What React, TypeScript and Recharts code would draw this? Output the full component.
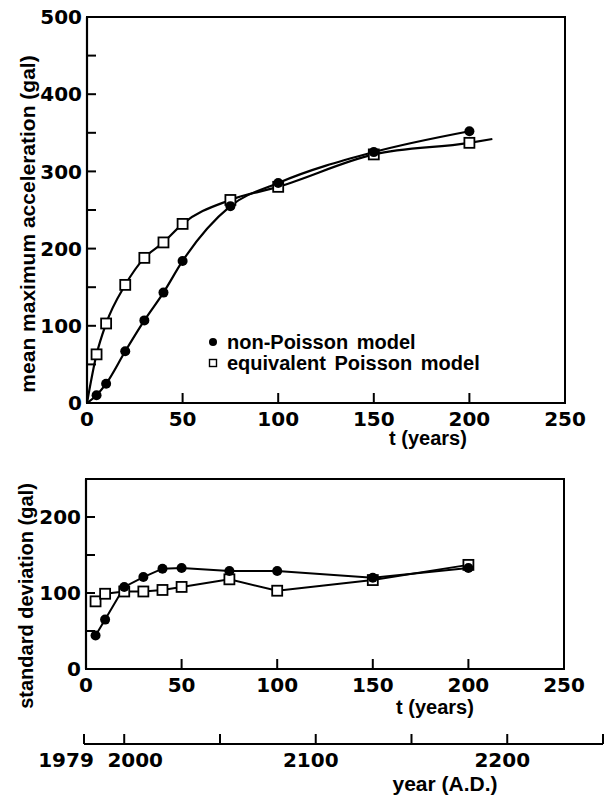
import React from 'react';
import { LineChart, Line, XAxis, YAxis, ReferenceArea, Legend, Label } from 'recharts';

// elapsed time t (years) at which both models were evaluated
const tYears = [5, 10, 20, 30, 40, 50, 75, 100, 150, 200];

// mean maximum acceleration (gal)
const meanNonPoisson = [10, 25, 67, 107, 143, 184, 255, 285, 325, 352];
const meanPoisson = [63, 103, 153, 188, 208, 232, 263, 280, 322, 337];
// fitted curves start at the origin, the Poisson one runs on a little past t = 200
const curveOrigin = [0, 0];
const poissonCurveEnd = [212, 342];

// standard deviation (gal)
const sdNonPoisson = [44, 65, 108, 121, 132, 133, 129, 129, 120, 133];
const sdPoisson = [89, 99, 102, 102, 104, 108, 118, 103, 117, 137];

const tTicks = [0, 50, 100, 150, 200, 250];
const meanTicks = [0, 50, 100, 150, 200, 250, 300, 350, 400, 450, 500];
const meanTickLabels = [0, 100, 200, 300, 400, 500];
const sdTicks = [0, 50, 100, 150, 200, 250];
const sdTickLabels = [0, 100, 200];
const yearTicks = [1979, 2000, 2050, 2100, 2150, 2200, 2250];
const yearTickLabels = [1979, 2000, 2100, 2200];

const NUM_FONT = '"DejaVu Sans", sans-serif';
const TEXT_FONT = '"Liberation Sans", Arial, sans-serif';
const INK = '#000';

type Pt = { t: number; v: number; mark: boolean };

const marked = (vals: number[]): Pt[] => tYears.map((t, i) => ({ t, v: vals[i], mark: true }));
const unmarked = ([t, v]: number[]): Pt => ({ t, v, mark: false });

const meanCircleData = [unmarked(curveOrigin), ...marked(meanNonPoisson)];
const meanSquareData = [unmarked(curveOrigin), ...marked(meanPoisson), unmarked(poissonCurveEnd)];
const sdCircleData = marked(sdNonPoisson);
const sdSquareData = marked(sdPoisson);
const yearData = yearTicks.map((year) => ({ year }));

const circleDot = (p: any) =>
  p.payload.mark ? (
    <circle key={`c${p.index}`} cx={p.cx} cy={p.cy} r={5} fill={INK} />
  ) : (
    <g key={`c${p.index}`} />
  );

const squareDot = (p: any) =>
  p.payload.mark ? (
    <rect key={`s${p.index}`} x={p.cx - 5} y={p.cy - 5} width={10} height={10} fill="#fff" stroke={INK} strokeWidth={1.8} />
  ) : (
    <g key={`s${p.index}`} />
  );

// ticks point into the plot; only some of them carry a number
const makeYTick = (labels: number[]) => (p: any) => (
  <g>
    <line x1={p.x} x2={p.x + 9} y1={p.y} y2={p.y} stroke={INK} strokeWidth={2} />
    {labels.includes(p.payload.value) && (
      <text x={p.x - 5} y={p.y} dy="0.36em" textAnchor="end" fontFamily={NUM_FONT} fontWeight="bold" fontSize={20} fill={INK}>
        {p.payload.value}
      </text>
    )}
  </g>
);

const makeXTick = (labels: number[] | null, shift: Record<number, number> = {}) => (p: any) => {
  const v = p.payload.value;
  const show = labels === null || labels.includes(v);
  return (
    <g>
      <line x1={p.x} x2={p.x} y1={p.y} y2={p.y - 10} stroke={INK} strokeWidth={2} />
      {show && (
        <text x={p.x + (shift[v] || 0)} y={p.y + 16} dy="0.36em" textAnchor="middle" fontFamily={NUM_FONT} fontWeight="bold" fontSize={20} fill={INK}>
          {v}
        </text>
      )}
    </g>
  );
};

// axis titles sit at fixed spots in the chart's own coordinates
const axisTitle = (text: string, x: number, y: number, size: number, vertical = false) => () => (
  <text
    x={x}
    y={y}
    dy="0.36em"
    textAnchor="middle"
    transform={vertical ? `rotate(-90 ${x} ${y})` : undefined}
    fontFamily={TEXT_FONT}
    fontWeight="bold"
    fontSize={size}
    fill={INK}
  >
    {text}
  </text>
);

const legendRows = [
  { name: 'non-Poisson model', shape: 'circle' },
  { name: 'equivalent Poisson model', shape: 'square' },
];

const LegendBox = () => (
  <div style={{ fontFamily: TEXT_FONT, fontWeight: 'bold', fontSize: 20, wordSpacing: 3, color: INK, lineHeight: '20.6px' }}>
    {legendRows.map((r) => (
      <div key={r.name} style={{ display: 'flex', alignItems: 'center', whiteSpace: 'nowrap' }}>
        <svg width={16} height={20}>
          {r.shape === 'circle' ? (
            <circle cx={8} cy={10} r={4} fill={INK} />
          ) : (
            <rect x={4.5} y={6.5} width={7} height={7} fill="#fff" stroke={INK} strokeWidth={1.4} />
          )}
        </svg>
        <span style={{ marginLeft: 6 }}>{r.name}</span>
      </div>
    ))}
  </div>
);

const axisLine = { stroke: INK, strokeWidth: 2.2 };

export default function App() {
  return (
    <div style={{ position: 'absolute', left: 0, top: 0, width: 606, height: 799, background: '#fff' }}>
      {/* mean maximum acceleration vs t */}
      <div style={{ position: 'absolute', left: 0, top: 0 }}>
        <LineChart width={606} height={460} margin={{ top: 17, right: 41, left: 0, bottom: 0 }}>
          <XAxis
            dataKey="t"
            type="number"
            domain={[0, 250]}
            ticks={tTicks}
            interval={0}
            height={57}
            tickSize={0}
            tickMargin={0}
            tickLine={false}
            axisLine={axisLine}
            tick={makeXTick(null)}
          >
            <Label content={axisTitle('t (years)', 428, 438, 20)} />
          </XAxis>
          <YAxis
            dataKey="v"
            type="number"
            domain={[0, 500]}
            ticks={meanTicks}
            interval={0}
            width={87}
            tickSize={0}
            tickMargin={0}
            tickLine={false}
            axisLine={axisLine}
            tick={makeYTick(meanTickLabels)}
          >
            <Label content={axisTitle('mean maximum acceleration (gal)', 27, 224, 21, true)} />
          </YAxis>
          <ReferenceArea x1={0} x2={250} y1={0} y2={500} fill="none" stroke={INK} strokeWidth={2} />
          <Line
            data={meanSquareData}
            dataKey="v"
            type="monotone"
            stroke={INK}
            strokeWidth={2.2}
            dot={squareDot}
            activeDot={false}
            isAnimationActive={false}
          />
          <Line
            data={meanCircleData}
            dataKey="v"
            type="monotone"
            stroke={INK}
            strokeWidth={2.2}
            dot={circleDot}
            activeDot={false}
            isAnimationActive={false}
          />
          <Legend
            layout="vertical"
            align="center"
            verticalAlign="middle"
            wrapperStyle={{ left: 205, top: 332, width: 320 }}
            content={LegendBox}
          />
        </LineChart>
      </div>

      {/* standard deviation vs t */}
      <div style={{ position: 'absolute', left: 0, top: 460 }}>
        <LineChart width={606} height={265} margin={{ top: 19, right: 42, left: 0, bottom: 0 }}>
          <XAxis
            dataKey="t"
            type="number"
            domain={[0, 250]}
            ticks={tTicks}
            interval={0}
            height={56}
            tickSize={0}
            tickMargin={0}
            tickLine={false}
            axisLine={axisLine}
            tick={makeXTick(null)}
          >
            <Label content={axisTitle('t (years)', 435, 247, 20)} />
          </XAxis>
          <YAxis
            dataKey="v"
            type="number"
            domain={[0, 250]}
            ticks={sdTicks}
            interval={0}
            width={86}
            tickSize={0}
            tickMargin={0}
            tickLine={false}
            axisLine={axisLine}
            tick={makeYTick(sdTickLabels)}
          >
            <Label content={axisTitle('standard deviation (gal)', 26, 136, 20, true)} />
          </YAxis>
          <ReferenceArea x1={0} x2={250} y1={0} y2={250} fill="none" stroke={INK} strokeWidth={2} />
          <Line
            data={sdSquareData}
            dataKey="v"
            type="linear"
            stroke={INK}
            strokeWidth={2}
            dot={squareDot}
            activeDot={false}
            isAnimationActive={false}
          />
          <Line
            data={sdCircleData}
            dataKey="v"
            type="linear"
            stroke={INK}
            strokeWidth={2}
            dot={circleDot}
            activeDot={false}
            isAnimationActive={false}
          />
        </LineChart>
      </div>

      {/* calendar year scale matching t */}
      <div style={{ position: 'absolute', left: 0, top: 725 }}>
        <LineChart width={606} height={74} data={yearData} margin={{ top: 0, right: 3, left: 84, bottom: 0 }}>
          <XAxis
            dataKey="year"
            type="number"
            domain={[1979, 2250]}
            ticks={yearTicks}
            interval={0}
            height={55}
            tickSize={0}
            tickMargin={0}
            tickLine={false}
            axisLine={axisLine}
            tick={makeXTick(yearTickLabels, { 1979: -18, 2000: 11, 2100: -5, 2200: -5 })}
          >
            <Label content={axisTitle('year (A.D.)', 445, 58, 21)} />
          </XAxis>
          <YAxis hide domain={[0, 1]} />
        </LineChart>
      </div>
    </div>
  );
}
